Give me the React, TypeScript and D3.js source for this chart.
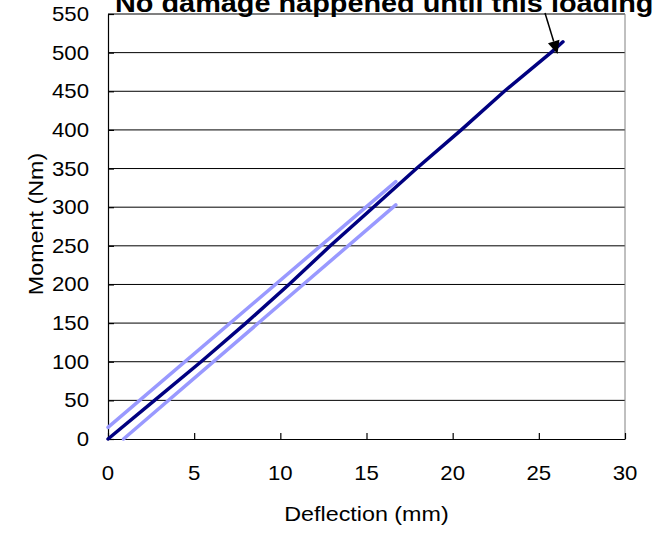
import { useEffect, useRef } from 'react'
import * as d3 from 'd3'

// deflection (mm) / moment (Nm) pairs
const measuredX = [0, 2.7, 5.4, 8.0, 10.5, 12.9, 15.4, 17.9, 20.5, 23.0, 25.7, 26.4]
const measuredY = [0, 50, 100, 150, 200, 250, 300, 350, 400, 450, 500, 514]
const upperX = [0, 16.7]
const upperY = [15, 333]
const lowerX = [0.9, 16.7]
const lowerY = [0, 303]

const xTicks = [0, 5, 10, 15, 20, 25, 30]
const yTicks = [0, 50, 100, 150, 200, 250, 300, 350, 400, 450, 500, 550]
const note = 'No damage happened until this loading'

const W = 654
const H = 533
const FONT = "'Liberation Sans', Arial, sans-serif"
const SX = 1.11 // the original lettering is a bit wider than Arial

export default function App() {
  const ref = useRef<SVGSVGElement>(null)

  useEffect(() => {
    const el = ref.current
    if (!el) return
    const svg = d3.select(el)
    svg.selectAll('*').remove()

    const left = 108
    const right = 625
    const top = 14
    const bottom = 439

    const x = d3.scaleLinear().domain([0, 30]).range([left, right])
    const y = d3.scaleLinear().domain([0, 550]).range([bottom, top])

    // gridlines
    svg.append('g')
      .selectAll('line')
      .data(yTicks.filter((d) => d > 0))
      .join('line')
      .attr('x1', left)
      .attr('x2', right)
      .attr('y1', (d) => y(d))
      .attr('y2', (d) => y(d))
      .attr('stroke', '#000')
      .attr('stroke-width', 1)

    // right border
    svg.append('line')
      .attr('x1', right).attr('x2', right)
      .attr('y1', top).attr('y2', bottom)
      .attr('stroke', '#808080')

    // axes, ticks inside
    const xAxis = svg.append('g')
      .attr('transform', `translate(0,${bottom})`)
      .call(d3.axisBottom(x).tickValues(xTicks).tickSizeInner(-6).tickSizeOuter(0).tickFormat(() => ''))
    const yAxis = svg.append('g')
      .attr('transform', `translate(${left},0)`)
      .call(d3.axisLeft(y).tickValues(yTicks).tickSizeInner(-6).tickSizeOuter(0).tickFormat(() => ''))
    svg.selectAll('.domain, .tick line').attr('stroke', '#000').attr('stroke-width', 1.2)
    xAxis.selectAll('text').remove()
    yAxis.selectAll('text').remove()

    // tick labels
    svg.append('g')
      .selectAll('text')
      .data(xTicks)
      .join('text')
      .attr('transform', (d) => `translate(${x(d)},${bottom + 41}) scale(${SX},1)`)
      .attr('text-anchor', 'middle')
      .attr('font-family', FONT)
      .attr('font-size', 20)
      .attr('fill', '#000')
      .text((d) => d)

    svg.append('g')
      .selectAll('text')
      .data(yTicks)
      .join('text')
      .attr('transform', (d) => `translate(89,${y(d) + 7}) scale(${SX},1)`)
      .attr('text-anchor', 'end')
      .attr('font-family', FONT)
      .attr('font-size', 20)
      .attr('fill', '#000')
      .text((d) => d)

    // axis titles
    svg.append('text')
      .attr('transform', `translate(${(left + right) / 2},521) scale(${SX},1)`)
      .attr('text-anchor', 'middle')
      .attr('font-family', FONT)
      .attr('font-size', 21)
      .text('Deflection (mm)')

    svg.append('text')
      .attr('transform', `translate(43,224) rotate(-90) scale(${SX},1)`)
      .attr('text-anchor', 'middle')
      .attr('font-family', FONT)
      .attr('font-size', 21)
      .text('Moment (Nm)')

    // series
    const line = d3.line<[number, number]>().x((d) => x(d[0])).y((d) => y(d[1]))
    const series = [
      { xs: upperX, ys: upperY, color: '#9999ff', w: 3.5 },
      { xs: lowerX, ys: lowerY, color: '#9999ff', w: 3.5 },
      { xs: measuredX, ys: measuredY, color: '#000080', w: 3.5 },
    ]
    series.forEach((s) => {
      svg.append('path')
        .datum(s.xs.map((v, i) => [v, s.ys[i]] as [number, number]))
        .attr('d', line)
        .attr('fill', 'none')
        .attr('stroke', s.color)
        .attr('stroke-width', s.w)
        .attr('stroke-linejoin', 'round')
        .attr('stroke-linecap', 'round')
    })

    // annotation arrow, head drawn as a polygon
    const from = [545, 13]
    const tip = [557.5, 54]
    const len = Math.hypot(tip[0] - from[0], tip[1] - from[1])
    const ux = (tip[0] - from[0]) / len
    const uy = (tip[1] - from[1]) / len
    const headLen = 13
    const headHalf = 6
    const bx = tip[0] - ux * headLen
    const by = tip[1] - uy * headLen

    svg.append('line')
      .attr('x1', from[0])
      .attr('y1', from[1])
      .attr('x2', bx)
      .attr('y2', by)
      .attr('stroke', '#000')
      .attr('stroke-width', 1.5)

    svg.append('path')
      .attr('d', `M${tip[0]},${tip[1]} L${bx - uy * headHalf},${by + ux * headHalf} L${bx + uy * headHalf},${by - ux * headHalf} Z`)
      .attr('fill', '#000')

    svg.append('text')
      .attr('transform', `translate(115,12) scale(${SX},1)`)
      .attr('font-family', FONT)
      .attr('font-size', 26)
      .attr('font-weight', 'bold')
      .attr('fill', '#000')
      .text(note)
  }, [])

  return (
    <svg
      ref={ref}
      width={W}
      height={H}
      style={{ position: 'absolute', left: 0, top: 0, background: '#fff' }}
    />
  )
}
